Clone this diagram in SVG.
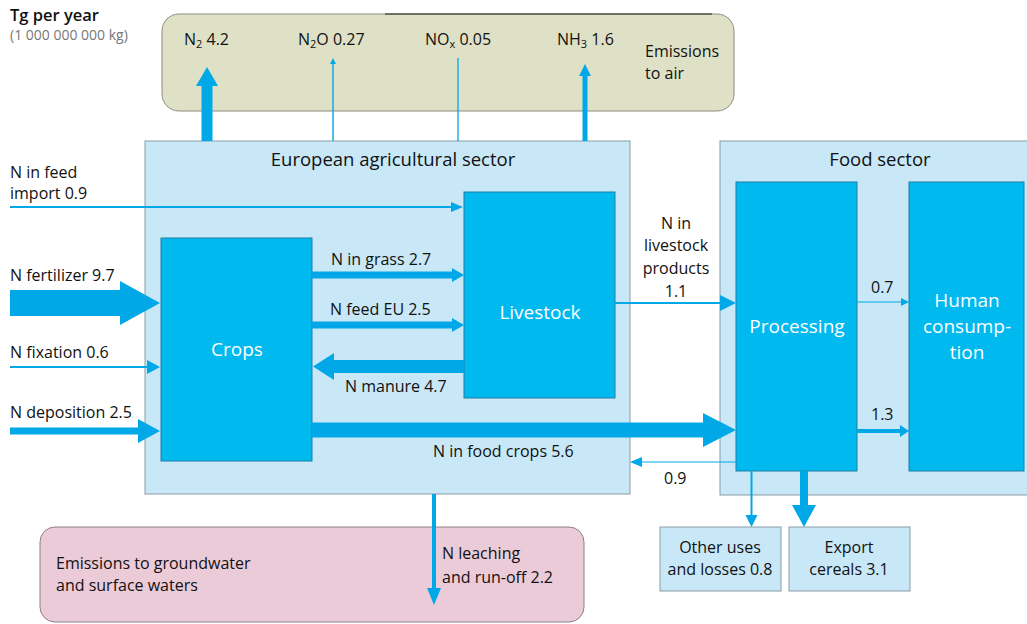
<svg xmlns="http://www.w3.org/2000/svg" width="1027" height="624" viewBox="0 0 1027 624">
<style>
text{font-family:"Open Sans","Liberation Sans",sans-serif;font-size:16px;fill:#111;font-weight:500}
.w{fill:#fff;font-size:19px;font-weight:400}
.c{text-anchor:middle}
.h{font-size:18.5px}
.sector{fill:#c8e8f8;stroke:#8a9ba5;stroke-width:1}
.node{fill:#00b9ef;stroke:#1f7fa3;stroke-width:1}
.arr{fill:#00a8e8}
.ln{stroke:#00a8e8;fill:none}
</style>
<rect width="1027" height="624" fill="#fff"/>
<g id="title">
<text x="10" y="21" style="font-size:16.5px;font-weight:600">Tg per year</text>
<text x="10" y="40" style="font-size:14px;fill:#777">(1 000 000 000 kg)</text>
</g>
<g id="emissions-air">
<rect x="162" y="14" width="572" height="97" rx="17" fill="#dfe1c6" stroke="#8c8c80"/>
<line x1="385" y1="14" x2="712" y2="14" stroke="#222" stroke-width="1"/>
<text x="184" y="45">N<tspan font-size="11" dy="3">2</tspan><tspan dy="-3"> 4.2</tspan></text>
<text x="298" y="45">N<tspan font-size="11" dy="3">2</tspan><tspan dy="-3">O 0.27</tspan></text>
<text x="425" y="45">NO<tspan font-size="11" dy="3">x</tspan><tspan dy="-3"> 0.05</tspan></text>
<text x="557" y="45">NH<tspan font-size="11" dy="3">3</tspan><tspan dy="-3"> 1.6</tspan></text>
<text x="645" y="57">Emissions</text>
<text x="645" y="79">to air</text>
</g>
<g id="eu-sector">
<rect class="sector" x="145" y="141" width="485" height="353"/>
<text class="c h" x="393" y="166">European agricultural sector</text>
</g>
<g id="food-sector">
<rect class="sector" x="720" y="141" width="320" height="354"/>
<text class="c h" x="880" y="166">Food sector</text>
</g>
<g id="crops">
<rect class="node" x="161" y="238" width="151" height="223"/>
<text class="w c" x="237" y="356">Crops</text>
</g>
<g id="livestock">
<rect class="node" x="464" y="192" width="151" height="206"/>
<text class="w c" x="540" y="319">Livestock</text>
</g>
<g id="processing">
<rect class="node" x="736" y="182" width="121" height="289"/>
<text class="w c" x="797" y="333">Processing</text>
</g>
<g id="human">
<rect class="node" x="909" y="182" width="115" height="289"/>
<text class="w c" x="967" y="307">Human</text>
<text class="w c" x="967" y="333">consump-</text>
<text class="w c" x="967" y="359">tion</text>
</g>
<g id="other-uses">
<rect class="sector" x="660" y="527" width="121" height="64"/>
<text class="c" x="720" y="553">Other uses</text>
<text class="c" x="720" y="575">and losses 0.8</text>
</g>
<g id="export">
<rect class="sector" x="789" y="527" width="121" height="64"/>
<text class="c" x="849" y="553">Export</text>
<text class="c" x="849" y="575">cereals 3.1</text>
</g>
<g id="emissions-water">
<rect x="40" y="527" width="544" height="95" rx="15" fill="#eccbd8" stroke="#8c8088"/>
<text x="56" y="569">Emissions to groundwater</text>
<text x="56" y="591">and surface waters</text>
</g>
<g id="connectors">
<polygon class="arr" points="201.5,141 201.5,86 196,86 207,67 218,86 212.5,86 212.5,141"/>
<polygon class="arr" points="332.3,141 332.3,64 330,64 333,58 336,64 333.7,64 333.7,141"/>
<line class="ln" x1="458" y1="141" x2="458" y2="58" stroke-width="1.3"/>
<polygon class="arr" points="582.5,141 582.5,76 579,76 585,64 591,76 587.5,76 587.5,141"/>
<polygon class="arr" points="10,206 451,206 451,202 463,207 451,212 451,208 10,208"/>
<polygon class="arr" points="10,290 120,290 120,281 160,303 120,325 120,316 10,316"/>
<polygon class="arr" points="10,366 147,366 147,360 160,367 147,374 147,368 10,368"/>
<polygon class="arr" points="10,427.5 138,427.5 138,419 160,431 138,443 138,434.5 10,434.5"/>
<polygon class="arr" points="312,271.5 452,271.5 452,268 464,275 452,282 452,278.5 312,278.5"/>
<polygon class="arr" points="312,321.5 452,321.5 452,318 464,325 452,332 452,328.5 312,328.5"/>
<polygon class="arr" points="464,360 334,360 334,353 313,366.5 334,380 334,373 464,373"/>
<polygon class="arr" points="312,422.5 703,422.5 703,413 736,430 703,447 703,437.5 312,437.5"/>
<polygon class="arr" points="615,302 720,302 720,295 736,303 720,311 720,304 615,304"/>
<polygon class="arr" points="857,301.5 901,301.5 901,298 909,302 901,306 901,302.5 857,302.5"/>
<polygon class="arr" points="857,429 900,429 900,425 909,431 900,437 900,433 857,433"/>
<polygon class="arr" points="736,461.5 642,461.5 642,457 630,462 642,467 642,462.5 736,462.5"/>
<polygon class="arr" points="750.5,471 750.5,515 745.5,515 751.5,527 757.5,515 752.5,515 752.5,471"/>
<polygon class="arr" points="800,471 800,505 792,505 804,527 816,505 808,505 808,471"/>
<polygon class="arr" points="432,494 432,588 427,588 434,605 441,588 436,588 436,494"/>
</g>
<g id="labels">
<text x="10" y="178">N in feed</text>
<text x="10" y="199">import 0.9</text>
<text x="10" y="281">N fertilizer 9.7</text>
<text x="10" y="358">N fixation 0.6</text>
<text x="10" y="418">N deposition 2.5</text>
<text x="331" y="265">N in grass 2.7</text>
<text x="330" y="315">N feed EU 2.5</text>
<text x="345" y="392">N manure 4.7</text>
<text x="433" y="457">N in food crops 5.6</text>
<text class="c" x="676" y="229">N in</text>
<text class="c" x="676" y="251">livestock</text>
<text class="c" x="676" y="274">products</text>
<text class="c" x="676" y="297">1.1</text>
<text x="871" y="293">0.7</text>
<text x="871" y="420">1.3</text>
<text x="664" y="484">0.9</text>
<text x="442" y="559">N leaching</text>
<text x="442" y="583">and run-off 2.2</text>
</g>
</svg>
